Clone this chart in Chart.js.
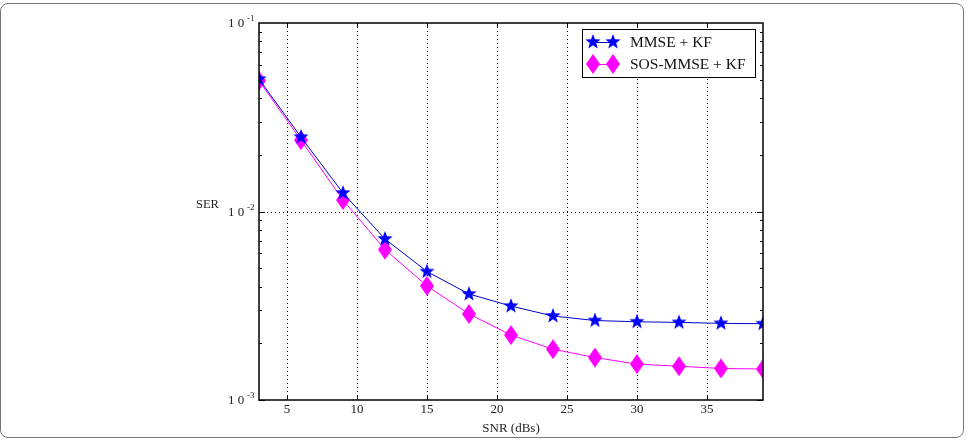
<!DOCTYPE html>
<html>
<head>
<meta charset="utf-8">
<script src="https://cdn.jsdelivr.net/npm/chart.js@4.4.0/dist/chart.umd.min.js"></script>
<style>
    html, body { margin: 0; padding: 0; background: #fff; }
    #wrap { position: relative; width: 974px; height: 440px; overflow: hidden; }
    #wrap canvas { position: absolute; left: 0; top: 0; }
    #frame { position: absolute; left: 0; top: 3px; width: 964px; height: 435px; border: 1px solid #777;
             border-radius: 8px; box-sizing: border-box; pointer-events: none; }
</style>
</head>
<body>
<div id="wrap">
    <canvas id="serChart" width="974" height="440"></canvas>
    <div id="frame"></div>
</div>
<script>
// SNR points (dB)
const snr = [3, 6, 9, 12, 15, 18, 21, 24, 27, 30, 33, 36, 39];
// SER values
const serMmse = [0.0504, 0.0248, 0.01253, 0.00715, 0.00480, 0.00365, 0.00315, 0.00279, 0.00264, 0.00260, 0.00258, 0.00255, 0.00254];
const serSos = [0.0494, 0.0239, 0.0115, 0.00628, 0.00403, 0.00286, 0.00221, 0.00186, 0.00168, 0.00155, 0.00151, 0.00147, 0.00146];
const seriesNames = ['MMSE + KF', 'SOS-MMSE + KF'];
const xTicks = [5, 10, 15, 20, 25, 30, 35];
const yDecades = [-1, -2, -3];

const serif = '"Liberation Serif", "DejaVu Serif", serif';
const blue = '#0000ff';
const magenta = '#ff00ff';

// filled 5-point star marker
function makeStar(r, color) {
    const c = document.createElement('canvas');
    c.width = c.height = Math.ceil(r * 2 + 2);
    const g = c.getContext('2d');
    const cx = c.width / 2, cy = c.height / 2;
    g.beginPath();
    for (let i = 0; i < 10; i++) {
        const rad = i % 2 === 0 ? r : r * 0.42;
        const a = -Math.PI / 2 + i * Math.PI / 5;
        g.lineTo(cx + rad * Math.cos(a), cy + rad * Math.sin(a));
    }
    g.closePath();
    g.fillStyle = color;
    g.fill();
    return c;
}

// tall diamond marker
function makeDiamond(w, h, color) {
    const c = document.createElement('canvas');
    c.width = w; c.height = h;
    const g = c.getContext('2d');
    g.beginPath();
    g.moveTo(w / 2, 0);
    g.lineTo(w, h / 2);
    g.lineTo(w / 2, h);
    g.lineTo(0, h / 2);
    g.closePath();
    g.fillStyle = color;
    g.fill();
    return c;
}

const starImg = makeStar(8, blue);
const diamondImg = makeDiamond(14, 20, magenta);

const decorPlugin = {
    id: 'decor',
    beforeDatasetsDraw(chart) {
        const ctx = chart.ctx;
        const area = chart.chartArea;
        const xs = chart.scales.x, ys = chart.scales.y;
        ctx.save();
        ctx.strokeStyle = '#000';
        ctx.lineWidth = 1;
        ctx.setLineDash([1, 3]);
        xTicks.forEach(v => {
            const px = Math.round(xs.getPixelForValue(v)) + 0.5;
            ctx.beginPath();
            ctx.moveTo(px, area.top);
            ctx.lineTo(px, area.bottom);
            ctx.stroke();
        });
        const py = Math.round(ys.getPixelForValue(1e-2)) + 0.5;
        ctx.beginPath();
        ctx.moveTo(area.left, py);
        ctx.lineTo(area.right, py);
        ctx.stroke();
        ctx.restore();
    },
    afterDatasetsDraw(chart) {
        const ctx = chart.ctx;
        const area = chart.chartArea;
        const xs = chart.scales.x, ys = chart.scales.y;
        ctx.save();
        ctx.strokeStyle = '#000';
        ctx.lineWidth = 1;

        // inner y ticks, both sides
        ctx.beginPath();
        [-3, -2].forEach(d => {
            for (let m = 1; m <= 9; m++) {
                const v = m * Math.pow(10, d);
                const py = Math.round(ys.getPixelForValue(v)) + 0.5;
                const len = m === 1 ? 6 : 3;
                ctx.moveTo(area.left, py); ctx.lineTo(area.left + len, py);
                ctx.moveTo(area.right, py); ctx.lineTo(area.right - len, py);
            }
        });
        // inner x ticks, top and bottom
        xTicks.forEach(v => {
            const px = Math.round(xs.getPixelForValue(v)) + 0.5;
            ctx.moveTo(px, area.bottom); ctx.lineTo(px, area.bottom - 5);
            ctx.moveTo(px, area.top); ctx.lineTo(px, area.top + 5);
        });
        ctx.stroke();

        // plot box
        ctx.lineWidth = 1.5;
        ctx.strokeRect(area.left, area.top, area.right - area.left, area.bottom - area.top);

        // y tick labels as 10 with superscript
        ctx.fillStyle = '#222';
        ctx.textBaseline = 'middle';
        yDecades.forEach(d => {
            const py = ys.getPixelForValue(Math.pow(10, d));
            ctx.font = '13px ' + serif;
            ctx.textAlign = 'left';
            ctx.fillText('1 0', 228, py + 1);
            ctx.font = '9px ' + serif;
            ctx.fillText(String(d), 247, py - 4);
        });

        // y axis label
        ctx.font = '12.5px ' + serif;
        ctx.textAlign = 'left';
        ctx.fillText('SER', 196, 205);

        // legend
        const lx = 582, ly = 29, lw = 173, lh = 48;
        ctx.fillStyle = '#fff';
        ctx.fillRect(lx, ly, lw, lh);
        ctx.lineWidth = 1;
        ctx.strokeStyle = '#000';
        ctx.strokeRect(lx + 0.5, ly + 0.5, lw, lh);
        const rows = [
            { y: 42, color: '#0000cc', img: starImg },
            { y: 64, color: magenta, img: diamondImg }
        ];
        rows.forEach((r, i) => {
            ctx.strokeStyle = r.color;
            ctx.beginPath();
            ctx.moveTo(593, r.y + 0.5);
            ctx.lineTo(613, r.y + 0.5);
            ctx.stroke();
            [593, 613].forEach(mx => {
                ctx.drawImage(r.img, mx - r.img.width / 2, r.y - r.img.height / 2);
            });
            ctx.fillStyle = '#111';
            ctx.font = '15.5px ' + serif;
            ctx.textAlign = 'left';
            ctx.fillText(seriesNames[i], 630, r.y + 1);
        });
        ctx.restore();
    }
};

const ctx = document.getElementById('serChart').getContext('2d');
new Chart(ctx, {
    type: 'line',
    data: {
        labels: snr,
        datasets: [
            {
                label: seriesNames[0],
                data: snr.map((x, i) => ({ x: x, y: serMmse[i] })),
                borderColor: '#0000cc',
                borderWidth: 1,
                pointStyle: starImg,
                tension: 0
            },
            {
                label: seriesNames[1],
                data: snr.map((x, i) => ({ x: x, y: serSos[i] })),
                borderColor: magenta,
                borderWidth: 1,
                pointStyle: diamondImg,
                tension: 0
            }
        ]
    },
    options: {
        responsive: false,
        animation: false,
        devicePixelRatio: 1,
        layout: { padding: { top: 23, right: 211, left: 0, bottom: 0 } },
        plugins: {
            legend: { display: false },
            tooltip: { enabled: false }
        },
        scales: {
            x: {
                type: 'linear',
                min: 3,
                max: 39,
                afterBuildTicks: scale => { scale.ticks = xTicks.map(v => ({ value: v })); },
                afterFit: scale => { scale.height = 40; },
                grid: { display: false, drawTicks: false },
                border: { display: false },
                ticks: {
                    padding: 2,
                    color: '#222',
                    font: { family: serif, size: 13 },
                    maxRotation: 0
                },
                title: {
                    display: true,
                    text: 'SNR (dBs)',
                    color: '#222',
                    font: { family: serif, size: 13 },
                    padding: { top: 2, bottom: 4 }
                }
            },
            y: {
                type: 'logarithmic',
                min: 1e-3,
                max: 1e-1,
                afterFit: scale => { scale.width = 259; },
                grid: { display: false },
                border: { display: false },
                ticks: { display: false }
            }
        }
    },
    plugins: [decorPlugin]
});
</script>
</body>
</html>
